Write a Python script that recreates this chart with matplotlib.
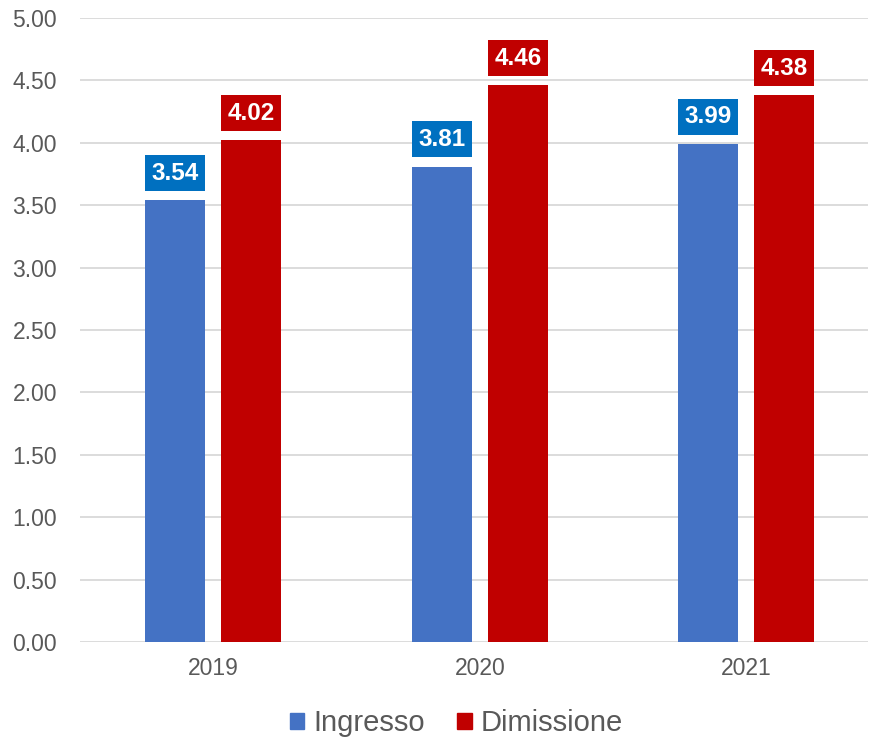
import matplotlib
matplotlib.use("Agg")
import matplotlib.pyplot as plt
import numpy as np
from matplotlib.patches import Patch

years = ["2019", "2020", "2021"]
ingresso = [3.54, 3.81, 3.99]
dimissione = [4.02, 4.46, 4.38]
yticks = [0.0, 0.5, 1.0, 1.5, 2.0, 2.5, 3.0, 3.5, 4.0, 4.5, 5.0]

plt.rcParams['font.family'] = ['Liberation Sans', 'DejaVu Sans']

blue_bar = "#4472C4"
blue_lbl = "#0070C0"
red = "#C00000"
grey_text = "#595959"

fig = plt.figure(figsize=(8.69, 7.41), dpi=100)
ax = fig.add_axes([80 / 869, 1 - 642 / 741, 788 / 869, 624 / 741])

x = np.arange(len(years))
w = 0.225
off = 0.1426
b1 = ax.bar(x - off, ingresso, w, color=blue_bar, zorder=3)
b2 = ax.bar(x + off, dimissione, w, color=red, zorder=3)

for bars, vals, c in ((b1, ingresso, blue_lbl), (b2, dimissione, red)):
    for r, v in zip(bars, vals):
        ax.annotate(f"{v:.2f}", (r.get_x() + r.get_width() / 2, v),
                    xytext=(0, 19.5), textcoords="offset points",
                    ha="center", va="center", color="white",
                    fontsize=17.5, fontweight="bold", zorder=5,
                    bbox=dict(boxstyle="square,pad=0.27", fc=c, ec="none"))

ax.set_ylim(0, 5)
ax.set_xlim(-0.5, -0.5 + 788 / 266.5)
ax.set_yticks(yticks)
ax.set_yticklabels([f"{t:.2f}" for t in yticks])
ax.set_xticks(x)
ax.set_xticklabels(years)
ax.tick_params(axis="y", length=0, pad=16.5, labelsize=16.5, labelcolor=grey_text)
ax.tick_params(axis="x", length=0, pad=11, labelsize=16.5, labelcolor=grey_text)
ax.grid(axis="y", color="#D9D9D9", linewidth=1.3, zorder=0)
for s in ax.spines.values():
    s.set_visible(False)

handles = [Patch(color=blue_bar, label="Ingresso"), Patch(color=red, label="Dimissione")]
fig.legend(handles=handles, loc="center", bbox_to_anchor=(0.525, 0.024), ncol=2,
           frameon=False, fontsize=21, labelcolor=grey_text,
           handlelength=0.5, handleheight=0.5, handletextpad=0.3,
           columnspacing=1.1, borderpad=0)

fig.savefig("out.png", dpi=100)
